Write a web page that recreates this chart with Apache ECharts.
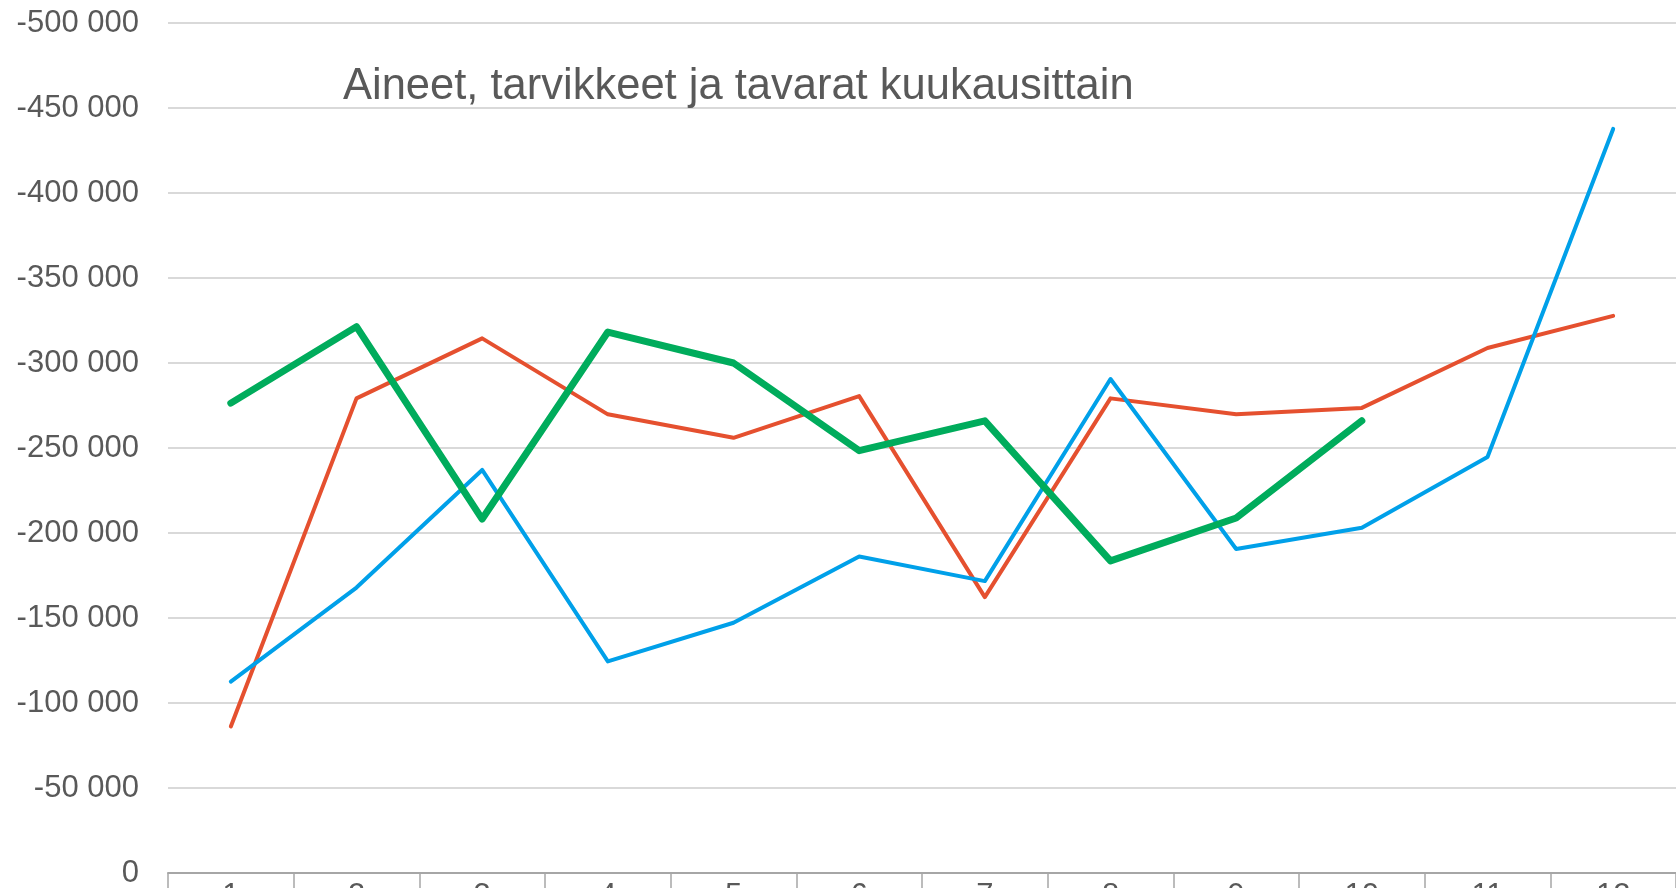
<!DOCTYPE html>
<html>
<head>
<meta charset="utf-8">
<script src="https://cdn.jsdelivr.net/npm/echarts@6/dist/echarts.min.js"></script>
<style>
  html, body { margin: 0; padding: 0; background: #fff; overflow: hidden; }
  #chart { width: 1676px; height: 888px; }
</style>
</head>
<body>
<div id="chart"></div>
<script>
// kuukaudet
var months = ['1', '2', '3', '4', '5', '6', '7', '8', '9', '10', '11', '12'];
// sarjat (luettu kuvasta)
var blueSeries = [-112600, -167900, -237100, -124500, -147200, -186200, -171700, -290600, -190600, -203100, -244700, -437700];
var redSeries = [-86200, -279200, -314500, -269800, -256000, -280500, -162300, -279200, -269800, -273600, -308800, -327700];
var greenSeries = [-276400, -321400, -208200, -318200, -300000, -248400, -266000, -183600, -208800, -266000, null, null];

var titleText = 'Aineet, tarvikkeet ja tavarat kuukausittain';

var fmt = function (v) {
    var s = String(Math.abs(v));
    var out = s.replace(/\B(?=(\d{3})+(?!\d))/g, ' ');
    return (v < 0 ? '-' : '') + out;
};

var myChart = echarts.init(document.getElementById('chart'));
var option = {
    animation: false,
    textStyle: { fontFamily: 'Liberation Sans, Arial, sans-serif' },
    title: {
        text: titleText,
        left: 338,
        top: 60,
        textStyle: { color: '#595959', fontSize: 43.5, fontWeight: 'normal', fontFamily: 'Liberation Sans, Arial, sans-serif' }
    },
    grid: { left: 168, right: 0, top: 23, bottom: 15, containLabel: false, outerBoundsMode: 'none' },
    xAxis: {
        type: 'category',
        data: months,
        boundaryGap: true,
        axisLine: { lineStyle: { color: '#a6a6a6', width: 2 } },
        axisTick: { show: true, length: 20, lineStyle: { color: '#a6a6a6', width: 1.5 } },
        axisLabel: { color: '#595959', fontSize: 31, margin: 8 }
    },
    yAxis: {
        type: 'value',
        inverse: true,
        min: -500000,
        max: 0,
        interval: 50000,
        axisLine: { show: false },
        axisTick: { show: false },
        splitLine: { lineStyle: { color: '#d9d9d9', width: 2 } },
        axisLabel: { color: '#595959', fontSize: 31, margin: 29, formatter: fmt }
    },
    series: [
        { name: 'blue', type: 'line', data: blueSeries, symbol: 'none', lineStyle: { color: '#00A0E9', width: 4, cap: 'round', join: 'round' }, z: 3 },
        { name: 'red', type: 'line', data: redSeries, symbol: 'none', lineStyle: { color: '#E5502F', width: 4, cap: 'round', join: 'round' }, z: 2 },
        { name: 'green', type: 'line', data: greenSeries, symbol: 'none', lineStyle: { color: '#00AC5C', width: 7, cap: 'round', join: 'round' }, z: 4 }
    ]
};
myChart.setOption(option);
</script>
</body>
</html>
